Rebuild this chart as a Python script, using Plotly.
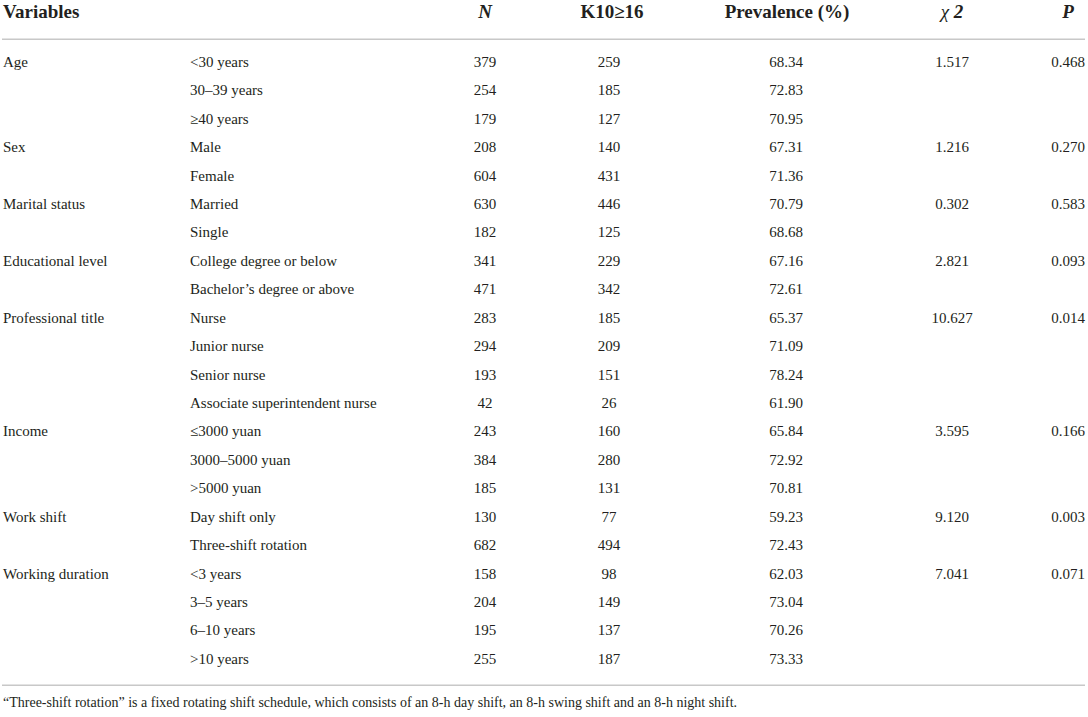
import plotly.graph_objects as go

# Table data: one entry per row
variables = ["Age", "", "", "Sex", "", "Marital status", "", "Educational level", "",
             "Professional title", "", "", "", "Income", "", "", "Work shift", "",
             "Working duration", "", "", ""]
categorias = ["<30 years", "30–39 years", "≥40 years", "Male", "Female", "Married", "Single",
              "College degree or below", "Bachelor’s degree or above", "Nurse", "Junior nurse",
              "Senior nurse", "Associate superintendent nurse", "≤3000 yuan", "3000–5000 yuan",
              ">5000 yuan", "Day shift only", "Three-shift rotation", "<3 years", "3–5 years",
              "6–10 years", ">10 years"]
n_total = [379, 254, 179, 208, 604, 630, 182, 341, 471, 283, 294, 193, 42, 243, 384, 185,
           130, 682, 158, 204, 195, 255]
k10 = [259, 185, 127, 140, 431, 446, 125, 229, 342, 185, 209, 151, 26, 160, 280, 131,
       77, 494, 98, 149, 137, 187]
prevalencia = [68.34, 72.83, 70.95, 67.31, 71.36, 70.79, 68.68, 67.16, 72.61, 65.37, 71.09,
               78.24, 61.90, 65.84, 72.92, 70.81, 59.23, 72.43, 62.03, 73.04, 70.26, 73.33]
chi2 = [1.517, None, None, 1.216, None, 0.302, None, 2.821, None, 10.627, None, None, None,
        3.595, None, None, 9.120, None, 7.041, None, None, None]
p_valor = [0.468, None, None, 0.270, None, 0.583, None, 0.093, None, 0.014, None, None, None,
           0.166, None, None, 0.003, None, 0.071, None, None, None]

encabezados = ["<b>Variables</b>", "<b><i>N</i></b>", "<b>K10≥16</b>", "<b>Prevalence (%)</b>",
               "<i>χ</i> <b><i>2</i></b>", "<b><i>P</i></b>"]
nota = ("“Three-shift rotation” is a fixed rotating shift schedule, which consists of an 8-h "
        "day shift, an 8-h swing shift and an 8-h night shift.")

FONT = "Liberation Serif"
COLOR = "#231f20"
filas = list(range(len(categorias)))

# column anchors (pixels) and alignment
cols = [
    (3, "middle right", variables),
    (190, "middle right", categorias),
    (485, "middle center", [str(v) for v in n_total]),
    (609, "middle center", [str(v) for v in k10]),
    (786, "middle center", [f"{v:.2f}" for v in prevalencia]),
    (952, "middle center", ["" if v is None else f"{v:.3f}" for v in chi2]),
    (1068, "middle center", ["" if v is None else f"{v:.3f}" for v in p_valor]),
]

fig = go.Figure()
for x, pos, textos in cols:
    fig.add_trace(go.Scatter(x=[x] * len(filas), y=filas, mode="text", text=textos,
                             textposition=pos, textfont=dict(family=FONT, size=15, color=COLOR),
                             cliponaxis=False, hoverinfo="skip", showlegend=False))

# header row
head_x = [3, 485, 612, 787, 952, 1068]
head_pos = ["middle right"] + ["middle center"] * 5
fig.add_trace(go.Scatter(x=head_x, y=[-1.74] * len(head_x), mode="text", text=encabezados,
                         textposition=head_pos, textfont=dict(family=FONT, size=19, color=COLOR),
                         cliponaxis=False, hoverinfo="skip", showlegend=False))

# footnote
fig.add_trace(go.Scatter(x=[3], y=[22.52], mode="text", text=[nota], textposition="middle right",
                         textfont=dict(family=FONT, size=14, color=COLOR),
                         cliponaxis=False, hoverinfo="skip", showlegend=False))

for yl in [-0.84, 21.88]:
    fig.add_shape(type="line", x0=2, x1=1085, y0=yl, y1=yl, xref="x", yref="y",
                  line=dict(color="#c8c8c8", width=1.5))

fig.update_xaxes(range=[0, 1088], visible=False, fixedrange=True)
fig.update_yaxes(range=[23.0, -2.216], visible=False, fixedrange=True)
fig.update_layout(width=1088, height=717, margin=dict(l=0, r=0, t=0, b=0),
                  plot_bgcolor="white", paper_bgcolor="white", hovermode=False)

# drop the default 8px page margin so the figure fills the window
fig.write_html("out.html", config={"displayModeBar": False},
               post_script="document.body.style.margin='0';")
